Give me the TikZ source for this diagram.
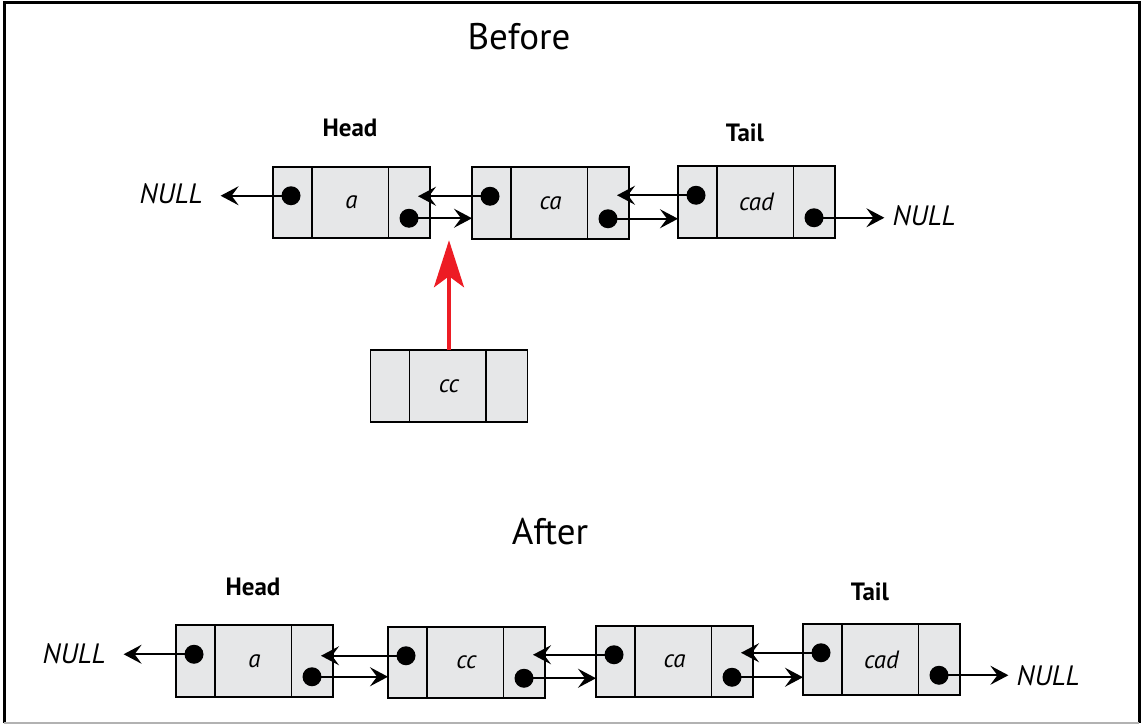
\documentclass[tikz,border=0pt]{standalone}
\usepackage{fontspec}
\setmainfont{PT Sans}
\usetikzlibrary{arrows.meta,calc}
\definecolor{cellgray}{HTML}{E6E7E8}
\definecolor{redarrow}{HTML}{ED1C24}
\tikzset{
  cell/.style={draw=black, line width=1.6pt, fill=cellgray, minimum width=157pt, minimum height=71.5pt, inner sep=0pt, outer sep=0pt},
  divider/.style={line width=1.6pt},
  dot/.style={circle, fill=black, minimum size=19pt, inner sep=0pt},
  ptr/.style={line width=2pt, -{Stealth[length=18pt,width=19pt,inset=7pt]}},
  celltext/.style={font=\fontsize{25}{28}\selectfont\itshape},
  nulltext/.style={font=\fontsize{28}{30}\selectfont\itshape, inner sep=0pt},
  tag/.style={font=\fontsize{25}{28}\selectfont\bfseries},
  title/.style={font=\fontsize{37}{40}\selectfont},
  redptr/.style={draw=redarrow, line width=3.5pt, -{Stealth[length=47pt,width=30pt,inset=11pt]}}
}
\newcommand\llnode[4]{%
  \node[cell] (#1) at (#2,#3) {};
  \draw[divider] ([xshift=39pt]#1.north west) -- ([xshift=39pt]#1.south west);
  \draw[divider] ([xshift=-41.5pt]#1.north east) -- ([xshift=-41.5pt]#1.south east);
  \node[celltext] (#1-t) at (#1.center) {#4};
}
\newcommand\lldots[1]{%
  \node[dot] (#1-p) at ([xshift=18pt,yshift=-29pt]#1.north west) {};
  \node[dot] (#1-n) at ([xshift=-21pt,yshift=20pt]#1.south east) {};
}
% back pointer from node #1 into right cell of node #2
\newcommand\backptr[2]{%
  \draw[ptr] (#1-p.center) -- ($(#1-p -| #2.east)+(-12,0)$);
}
\begin{document}
\begin{tikzpicture}[x=1pt,y=-1pt]
\useasboundingbox (0,0) rectangle (1141,725);
% frame
\draw[line width=3pt] (4,723) -- (4,3) -- (1139,3) -- (1139,723);
\draw[line width=1.5pt, gray!60] (4,723) -- (1139,723);

% ---------- Before ----------
\node[title] (before) at (519,37) {Before};
\node[tag] (head1) at (350,128) {Head};
\node[tag] (tail1) at (745,133) {Tail};

\llnode{a1}{351.5}{202.5}{a}
\llnode{ca1}{550.5}{203}{ca}
\llnode{cad1}{756.5}{202}{cad}
\llnode{cc1}{449}{386}{cc}
\lldots{a1}
\lldots{ca1}
\lldots{cad1}

\node[nulltext] (null1) at (171,194) {NULL};
\node[nulltext] (null2) at (924,216) {NULL};

\draw[ptr] (a1-p.center) -- ($(a1-p -| null1.east)+(18,0)$);
\draw[ptr] (a1-n.center) -- (a1-n -| ca1.west);
\backptr{ca1}{a1}
\draw[ptr] (ca1-n.center) -- (ca1-n -| cad1.west);
\backptr{cad1}{ca1}
\draw[ptr] (cad1-n.center) -- ($(cad1-n -| null2.west)+(-8,0)$);

\draw[redptr] (cc1.north) -- ($(cc1.north |- a1.south)+(0,2)$);

% ---------- After ----------
\node[title] (after) at (550,532) {After};
\node[tag] (head2) at (253,587) {Head};
\node[tag] (tail2) at (870,592) {Tail};

\llnode{a2}{254.5}{661}{a}
\llnode{cc2}{466.5}{662.5}{cc}
\llnode{ca2}{674.5}{661.5}{ca}
\llnode{cad2}{881.5}{659.5}{cad}
\lldots{a2}
\lldots{cc2}
\lldots{ca2}
\lldots{cad2}

\node[nulltext] (null3) at (74,654) {NULL};
\node[nulltext] (null4) at (1048,676) {NULL};

\draw[ptr] (a2-p.center) -- ($(a2-p -| null3.east)+(18,0)$);
\draw[ptr] (a2-n.center) -- (a2-n -| cc2.west);
\backptr{cc2}{a2}
\draw[ptr] (cc2-n.center) -- (cc2-n -| ca2.west);
\backptr{ca2}{cc2}
\draw[ptr] (ca2-n.center) -- (ca2-n -| cad2.west);
\backptr{cad2}{ca2}
\draw[ptr] (cad2-n.center) -- ($(cad2-n -| null4.west)+(-8,0)$);
\end{tikzpicture}
\end{document}
